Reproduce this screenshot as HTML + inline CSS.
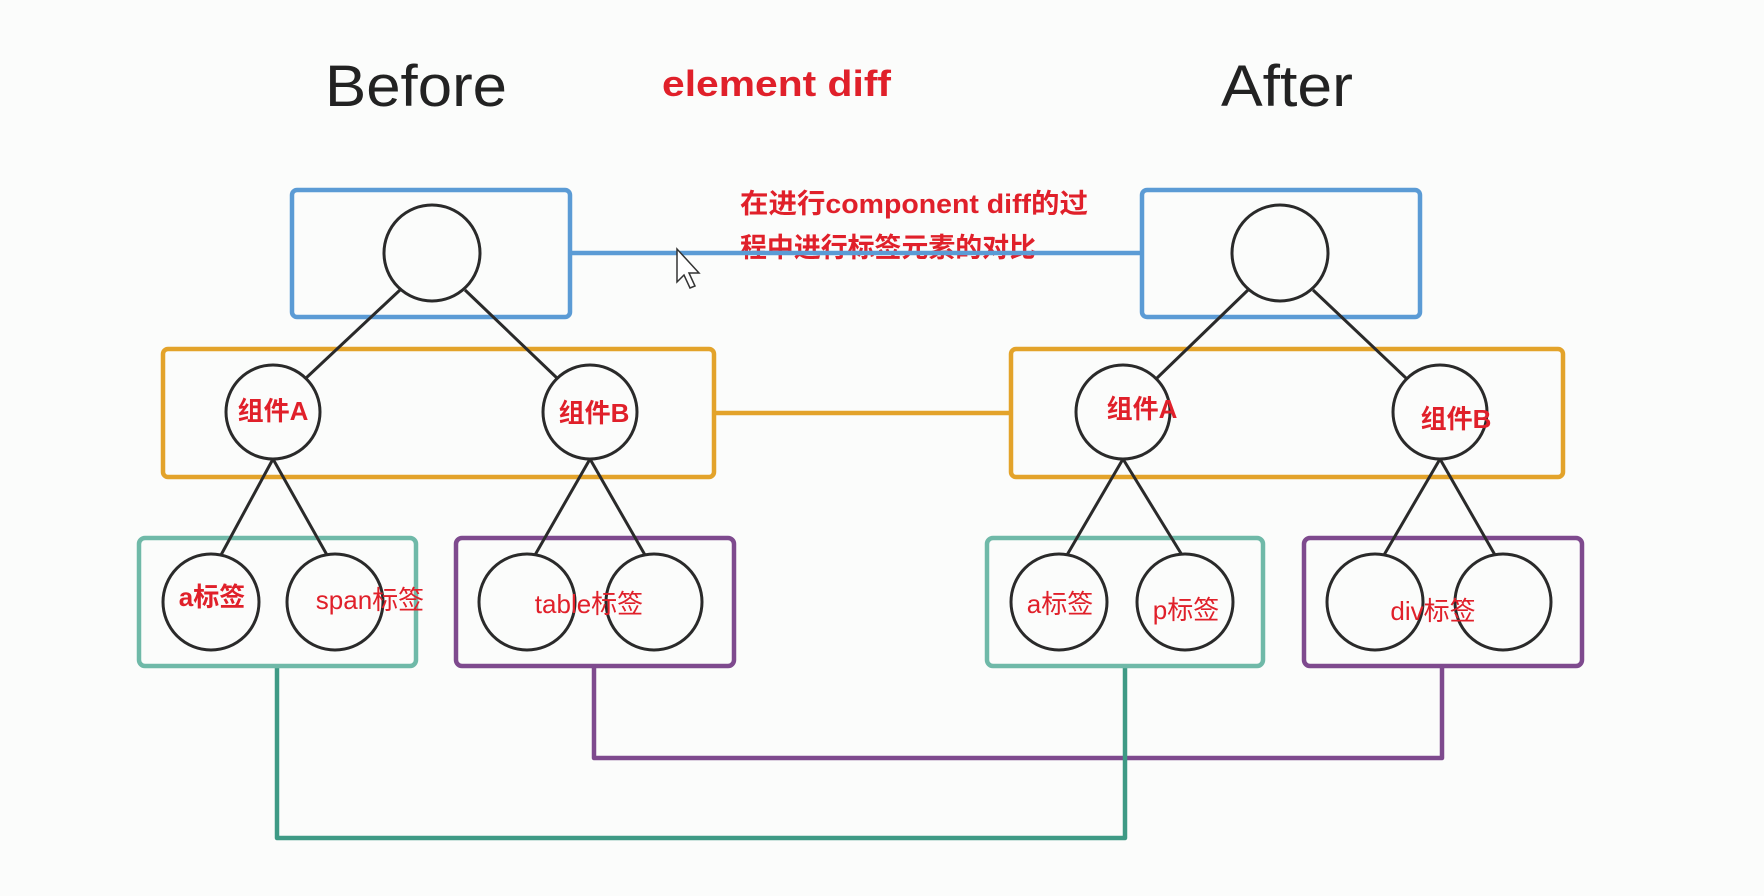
<!DOCTYPE html>
<html><head><meta charset="utf-8"><style>
html,body{margin:0;padding:0;background:#fbfcfb;}
svg{display:block;}
.cj{font-family:"Liberation Sans","Noto Sans CJK SC",sans-serif;}
</style></head><body>
<svg width="1764" height="896" viewBox="0 0 1764 896" xmlns="http://www.w3.org/2000/svg">
<rect width="1764" height="896" fill="#fbfcfb"/>
<g class="cj">
<text x="416" y="106" font-size="58" text-anchor="middle" fill="#222" textLength="182" lengthAdjust="spacingAndGlyphs">Before</text>
<text x="1287" y="106" font-size="58" text-anchor="middle" fill="#222" textLength="132" lengthAdjust="spacingAndGlyphs">After</text>
<text x="662" y="96" font-size="36" font-weight="bold" fill="#e0202a" textLength="229" lengthAdjust="spacingAndGlyphs">element diff</text>
<text x="740" y="213" font-size="27" font-weight="bold" fill="#e0202a" textLength="348" lengthAdjust="spacingAndGlyphs">在进行component diff的过</text>
<text x="740" y="257" font-size="27" font-weight="bold" fill="#e0202a" textLength="296" lengthAdjust="spacingAndGlyphs">程中进行标签元素的对比</text>
</g>
<!-- connectors -->
<g fill="none" stroke-width="4.5" stroke-linejoin="round">
<line x1="570" y1="253" x2="1142" y2="253" stroke="#5b9bd5"/>
<line x1="714" y1="413" x2="1011" y2="413" stroke="#e3a32a"/>
<polyline points="594,666 594,758 1442,758 1442,666" stroke="#7e4a8e"/>
<polyline points="277,666 277,838 1125,838 1125,666" stroke="#3e9a85"/>
</g>
<!-- boxes -->
<g fill="none" stroke-width="4.5">
<rect x="292" y="190" width="278" height="127" rx="5" stroke="#5b9bd5"/>
<rect x="1142" y="190" width="278" height="127" rx="5" stroke="#5b9bd5"/>
<rect x="163" y="349" width="551" height="128" rx="5" stroke="#e3a32a"/>
<rect x="1011" y="349" width="552" height="128" rx="5" stroke="#e3a32a"/>
<rect x="139" y="538" width="277" height="128" rx="6" stroke="#6fb9a8"/>
<rect x="456" y="538" width="278" height="128" rx="6" stroke="#7e4a8e"/>
<rect x="987" y="538" width="276" height="128" rx="6" stroke="#6fb9a8"/>
<rect x="1304" y="538" width="278" height="128" rx="6" stroke="#7e4a8e"/>
</g>
<!-- tree edges -->
<g stroke="#2a2a2a" stroke-width="3">
<line x1="400" y1="290" x2="305" y2="379"/><line x1="465" y1="290" x2="558" y2="379"/>
<line x1="1248" y1="290" x2="1156" y2="379"/><line x1="1313" y1="290" x2="1407" y2="379"/>
<line x1="273" y1="459" x2="221" y2="555"/><line x1="273" y1="459" x2="327" y2="555"/>
<line x1="590" y1="459" x2="535" y2="555"/><line x1="590" y1="459" x2="645" y2="555"/>
<line x1="1123" y1="459" x2="1067" y2="555"/><line x1="1123" y1="459" x2="1182" y2="555"/>
<line x1="1440" y1="459" x2="1384" y2="555"/><line x1="1440" y1="459" x2="1495" y2="555"/>
</g>
<g fill="none" stroke="#2a2a2a" stroke-width="3">
<ellipse cx="432" cy="253" rx="48" ry="48"/><ellipse cx="1280" cy="253" rx="48" ry="48"/>
<ellipse cx="273" cy="412" rx="47" ry="47"/><ellipse cx="590" cy="412" rx="47" ry="47"/>
<ellipse cx="1123" cy="412" rx="47" ry="47"/><ellipse cx="1440" cy="412" rx="47" ry="47"/>
<ellipse cx="211" cy="602" rx="48" ry="48"/><ellipse cx="335" cy="602" rx="48" ry="48"/>
<ellipse cx="527" cy="602" rx="48" ry="48"/><ellipse cx="654" cy="602" rx="48" ry="48"/>
<ellipse cx="1059" cy="602" rx="48" ry="48"/><ellipse cx="1185" cy="602" rx="48" ry="48"/>
<ellipse cx="1375" cy="602" rx="48" ry="48"/><ellipse cx="1503" cy="602" rx="48" ry="48"/>
</g>
<!-- labels -->
<g class="cj" fill="#e0202a">
<text x="273" y="420" font-size="26" font-weight="bold" text-anchor="middle">组件A</text>
<text x="594" y="422" font-size="26" font-weight="bold" text-anchor="middle">组件B</text>
<text x="1142" y="418" font-size="26" font-weight="bold" text-anchor="middle">组件A</text>
<text x="1456" y="428" font-size="26" font-weight="bold" text-anchor="middle">组件B</text>
<text x="212" y="606" font-size="26" font-weight="bold" text-anchor="middle">a标签</text>
<text x="370" y="609" font-size="26" text-anchor="middle">span标签</text>
<text x="589" y="613" font-size="26" text-anchor="middle">table标签</text>
<text x="1060" y="613" font-size="26" text-anchor="middle">a标签</text>
<text x="1186" y="619" font-size="26" text-anchor="middle">p标签</text>
<text x="1433" y="620" font-size="26" text-anchor="middle">div标签</text>
</g>
<!-- cursor -->
<path d="M677,249 L677,282 L684,275 L690,288 L695,286 L689,273 L699,273 Z" fill="#fff" stroke="#333" stroke-width="1.5"/>
</svg>
</body></html>
